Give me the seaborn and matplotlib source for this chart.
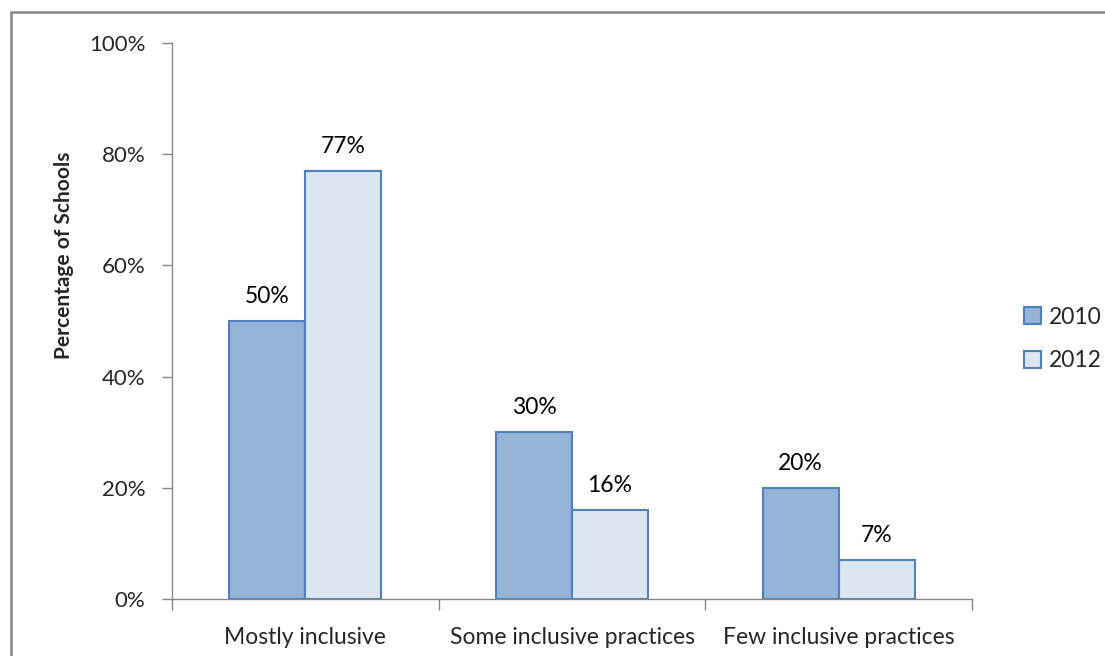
import matplotlib
matplotlib.use("Agg")
import matplotlib.pyplot as plt
import seaborn as sns
import pandas as pd
from matplotlib.patches import Rectangle, Patch
from matplotlib.ticker import FuncFormatter, FixedLocator

categories = ["Mostly inclusive", "Some inclusive practices", "Few inclusive practices"]
years = ["2010", "2012"]
values_2010 = [50, 30, 20]
values_2012 = [77, 16, 7]
yticks = [0, 20, 40, 60, 80, 100]

sns.set_theme(style="white")
plt.rcParams["font.family"] = ["Lato", "DejaVu Sans"]

df = pd.DataFrame({
    "Category": categories * 2,
    "Year": [years[0]] * 3 + [years[1]] * 3,
    "Value": values_2010 + values_2012,
})

fill = {"2010": "#95B3D7", "2012": "#DCE6F2"}
edge = "#4F81BD"

fig = plt.figure(figsize=(11.05, 6.56), dpi=100)
ax = fig.add_axes([172 / 1105, 1 - 599 / 656, (972 - 172) / 1105, (599 - 43) / 656])

sns.barplot(data=df, x="Category", y="Value", hue="Year", palette=fill,
            width=0.57, edgecolor=edge, linewidth=1.5, ax=ax, legend=False, saturation=1)

for cont in ax.containers:
    ax.bar_label(cont, labels=[f"{int(round(b.get_height()))}%" for b in cont],
                 padding=10, fontsize=16.5, color="black")

ax.set_xlim(-0.5, 2.5)
ax.set_ylim(0, 100)
ax.set_yticks(yticks)
ax.yaxis.set_major_formatter(FuncFormatter(lambda v, p: f"{int(v)}%"))
ax.set_xlabel("")
ax.set_ylabel("Percentage of Schools", fontsize=15, fontweight="bold")
ax.yaxis.set_label_coords((74 - 172) / 800, (599 - 255) / 556)
ax.tick_params(axis="y", labelsize=16, length=7, width=1, color="#868686", direction="out", pad=12, left=True)
ax.tick_params(axis="x", labelsize=16.5, length=0, pad=20)
ax.xaxis.set_minor_locator(FixedLocator([-0.5, 0.5, 1.5, 2.5]))
ax.tick_params(axis="x", which="minor", length=8, width=1, color="#868686", direction="out", bottom=True)
for s in ["top", "right"]:
    ax.spines[s].set_visible(False)
for s in ["left", "bottom"]:
    ax.spines[s].set_color("#868686")
    ax.spines[s].set_linewidth(1)

handles = [Patch(facecolor=fill[y], edgecolor=edge, linewidth=1.5, label=y) for y in years]
fig.legend(handles=handles, loc="center left", bbox_to_anchor=(1003 / 1105, 1 - 339 / 656),
           frameon=False, fontsize=16.5, handlelength=0.75, handleheight=0.75,
           handletextpad=0.35, labelspacing=1.0)

# outer frame (partially visible border)
fig.patches.append(Rectangle((11 / 1105, -0.1), 1.2, 1 - 12 / 656 + 0.1, transform=fig.transFigure,
                             fill=False, edgecolor="#868686", linewidth=1.8))

fig.savefig("out.png", dpi=100)
